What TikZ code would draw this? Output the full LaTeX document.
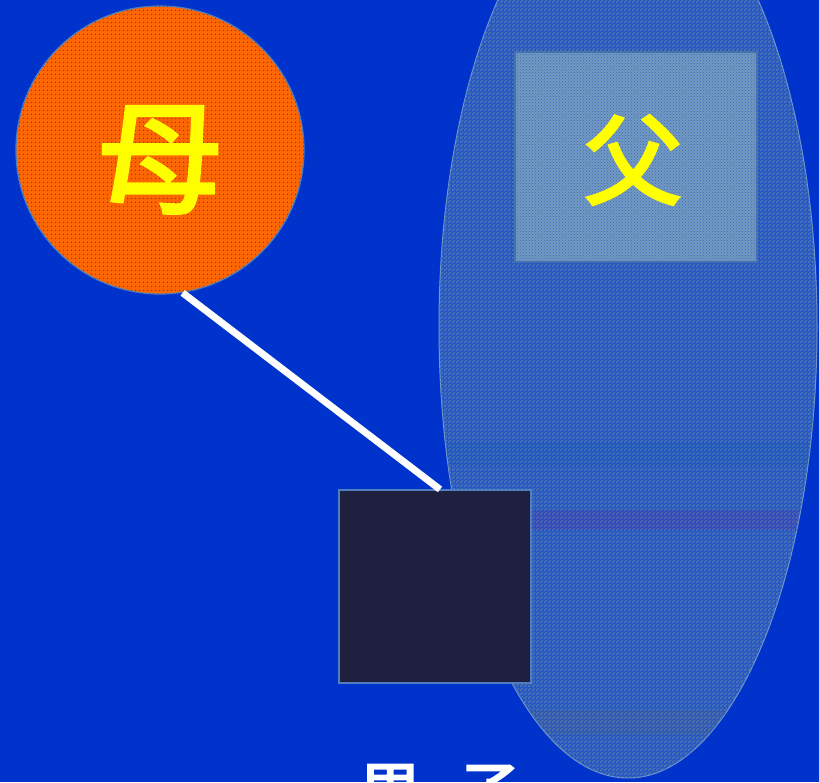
\documentclass[tikz,border=0pt]{standalone}
\usepackage{fontspec}
\newfontfamily\cjk{Noto Sans CJK JP}[FakeBold=3]
\usetikzlibrary{shapes.geometric,patterns,patterns.meta,calc}
\definecolor{bg}{HTML}{0033CC}
\definecolor{edge}{HTML}{4F7FBE}
\definecolor{orng}{HTML}{FF6600}
\definecolor{dotc}{HTML}{2F50B8}
\definecolor{ellbase}{HTML}{2556C6}
\definecolor{ellchk}{HTML}{5079B6}
\definecolor{rectc}{HTML}{729ABF}
\definecolor{rectdot}{HTML}{3C66C0}
\definecolor{navy}{HTML}{1F2040}
\definecolor{yel}{HTML}{FFFF00}
\pgfdeclarepatternformonly{checker}{\pgfpointorigin}{\pgfpoint{4pt}{4pt}}{\pgfpoint{4pt}{4pt}}{%
  \pgfpathrectangle{\pgfpointorigin}{\pgfpoint{2pt}{2pt}}%
  \pgfpathrectangle{\pgfpoint{2pt}{2pt}}{\pgfpoint{2pt}{2pt}}%
  \pgfusepath{fill}}
\tikzset{
  mothercirc/.style={circle, draw=edge, line width=1.2pt, fill=orng, minimum size=288pt, inner sep=0pt,
    postaction={pattern={Dots[distance=4pt,radius=0.9pt]}, pattern color=dotc}},
  bigell/.style={ellipse, draw=edge!80!white, line width=1pt, fill=ellbase, minimum width=378pt, minimum height=902pt, inner sep=0pt,
    postaction={pattern=checker, pattern color=ellchk}},
  fatherbox/.style={rectangle, draw=edge!90!black, line width=1.2pt, fill=rectc, minimum width=242pt, minimum height=210pt, inner sep=0pt,
    postaction={pattern=crosshatch dots, pattern color=rectdot}},
  childbox/.style={rectangle, draw=edge, line width=1.2pt, fill=navy, minimum width=192pt, minimum height=193pt, inner sep=0pt},
  bigchar/.style={text=yel, font=\cjk\fontsize{#1}{#1}\selectfont, inner sep=0pt},
  childlbl/.style={text=white, font=\cjk\fontsize{64}{64}\selectfont, inner sep=0pt},
  link/.style={white, line width=7pt}
}
\begin{document}
\begin{tikzpicture}[x=1pt,y=-1pt]
\fill[bg] (0,0) rectangle (819,782);
\useasboundingbox (0,0) rectangle (819,782);
% large ellipse
\node[bigell] (ell) at (628,327) {};
\begin{scope}
  \clip (628,327) ellipse [x radius=188, y radius=450];
  \fill[teal!70!blue, opacity=0.12] (430,442) rectangle (819,466);
  \fill[violet, opacity=0.12] (430,510) rectangle (819,530);
  \fill[olive!60!blue, opacity=0.12] (430,710) rectangle (819,735);
\end{scope}
% father box
\node[fatherbox] (fa) at (636,157) {};
\node[bigchar=98] (falbl) at (633,160) {父};
% mother circle
\node[mothercirc] (mo) at (160,150) {};
\node[bigchar=122] (molbl) at (160,160) {母};
% child box
\node[childbox] (ch) at (435,586.5) {};
% link
\draw[link] (mo.-81) -- ($(ch.north)+(5,0)$);
% child label
\node[childlbl, anchor=base] (chlbl) at (440,815) {男\hspace{0.55em}子};
\end{tikzpicture}
\end{document}
